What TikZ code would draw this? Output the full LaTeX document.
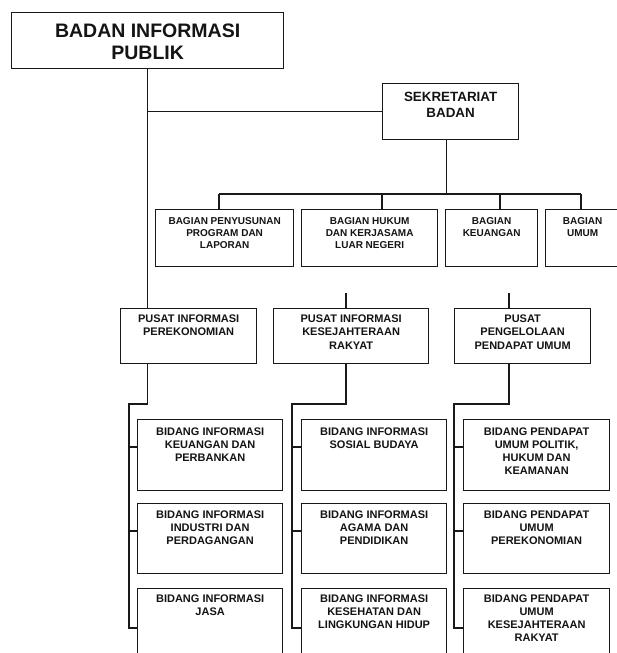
\documentclass[tikz,border=0pt]{standalone}
\usepackage{fontspec}
\setmainfont{Liberation Sans}
\usetikzlibrary{calc}
\tikzset{
  orgbox/.style={draw=black!90, line width=1.3pt, inner sep=0pt, anchor=north west, text=black!92, font=\bfseries},
  conn/.style={draw=black!90, line width=1.3pt},
}
\newcommand\obox[9]{\node[orgbox] (#1) at (#2,#3) {\parbox[t][#5pt][t]{#4pt}{\centering\fontsize{#6}{#7}\selectfont\rule{0pt}{#8pt}#9\par}};}
\begin{document}
\begin{tikzpicture}[x=1pt,y=-1pt]
\useasboundingbox (0,0) rectangle (617,653);
\fill[white] (0,0) rectangle (617,653);
\clip (0,0) rectangle (617,653);
% top levels
\obox{top}{11}{12}{272}{56}{19.5}{21.7}{25}{BADAN INFORMASI\\PUBLIK}
\obox{sek}{382}{83}{136}{56}{13.4}{16}{17.7}{SEKRETARIAT\\BADAN}
% bagian
\obox{bagA}{155}{209}{138}{57}{10}{12}{14.5}{BAGIAN PENYUSUNAN\\PROGRAM DAN\\LAPORAN}
\obox{bagB}{301}{209}{136}{57}{10}{12}{14.5}{BAGIAN HUKUM\\DAN KERJASAMA\\LUAR NEGERI}
\obox{bagC}{445}{209}{92}{57}{10}{12}{14.5}{BAGIAN\\KEUANGAN}
\obox{bagD}{545}{209}{74}{57}{10}{12}{14.5}{BAGIAN\\UMUM}
% pusat
\obox{pusA}{120}{308}{136}{55}{11}{13.5}{13.7}{PUSAT INFORMASI\\PEREKONOMIAN}
\obox{pusB}{273}{308}{155}{55}{11}{13.5}{13.7}{PUSAT INFORMASI\\KESEJAHTERAAN\\RAKYAT}
\obox{pusC}{454}{308}{136}{55}{11}{13.5}{13.7}{PUSAT\\PENGELOLAAN\\PENDAPAT UMUM}
% bidang column 1
\obox{biA1}{137}{419}{145}{71}{11}{12.8}{16}{BIDANG INFORMASI\\KEUANGAN DAN\\PERBANKAN}
\obox{biA2}{137}{503}{145}{70}{11}{12.8}{15.3}{BIDANG INFORMASI\\INDUSTRI DAN\\PERDAGANGAN}
\obox{biA3}{137}{588}{145}{92}{11}{12.8}{14.3}{BIDANG INFORMASI\\JASA}
% bidang column 2
\obox{biB1}{301}{419}{145}{71}{11}{12.8}{16}{BIDANG INFORMASI\\SOSIAL BUDAYA}
\obox{biB2}{301}{503}{145}{70}{11}{12.8}{15.3}{BIDANG INFORMASI\\AGAMA DAN\\PENDIDIKAN}
\obox{biB3}{301}{588}{145}{92}{11}{12.8}{14.3}{BIDANG INFORMASI\\KESEHATAN DAN\\LINGKUNGAN HIDUP}
% bidang column 3
\obox{biC1}{463}{419}{146}{71}{11}{12.8}{16}{BIDANG PENDAPAT\\UMUM POLITIK,\\HUKUM DAN\\KEAMANAN}
\obox{biC2}{463}{503}{146}{70}{11}{12.8}{15.3}{BIDANG PENDAPAT\\UMUM\\PEREKONOMIAN}
\obox{biC3}{463}{588}{146}{92}{11}{12.8}{14.3}{BIDANG PENDAPAT\\UMUM\\KESEJAHTERAAN\\RAKYAT}
% helper coordinates
\coordinate (d1) at (219,194);
\coordinate (d2) at (382,194);
\coordinate (d3) at (500,194);
\coordinate (d4) at (581,194);
\coordinate (pBtop) at (346,293);
\coordinate (pCtop) at (509,293);
\coordinate (tA) at (129,404);
\coordinate (tB) at (292,404);
\coordinate (tC) at (454,404);
\coordinate (y1) at (0,447);
\coordinate (y2) at (0,531);
\coordinate (y3) at (0,628);
% connectors
\draw[conn] (top.south) |- (sek.west);
\draw[conn] (top.south) -- (top.south |- pusA.north);
\draw[conn] ([xshift=-4pt]sek.south) -- ([xshift=-4pt]sek.south |- d1);
\draw[conn] (d1) -- (d4);
\draw[conn] (d1) -- (d1 |- bagA.north);
\draw[conn] (d2) -- (d2 |- bagB.north);
\draw[conn] (d3) -- (d3 |- bagC.north);
\draw[conn] (d4) -- (d4 |- bagD.north);
\draw[conn] (pBtop) -- (pBtop |- pusB.north);
\draw[conn] (pCtop) -- (pCtop |- pusC.north);
% column trunks
\draw[conn] (top.south |- pusA.south) -- (top.south |- tA) -- (tA) -- (tA |- y3) -- (biA3.west |- y3);
\draw[conn] (tA |- y1) -- (biA1.west |- y1);
\draw[conn] (tA |- y2) -- (biA2.west |- y2);
\draw[conn] (pBtop |- pusB.south) -- (pBtop |- tB) -- (tB) -- (tB |- y3) -- (biB3.west |- y3);
\draw[conn] (tB |- y1) -- (biB1.west |- y1);
\draw[conn] (tB |- y2) -- (biB2.west |- y2);
\draw[conn] (pCtop |- pusC.south) -- (pCtop |- tC) -- (tC) -- (tC |- y3) -- (biC3.west |- y3);
\draw[conn] (tC |- y1) -- (biC1.west |- y1);
\draw[conn] (tC |- y2) -- (biC2.west |- y2);
\end{tikzpicture}
\end{document}
